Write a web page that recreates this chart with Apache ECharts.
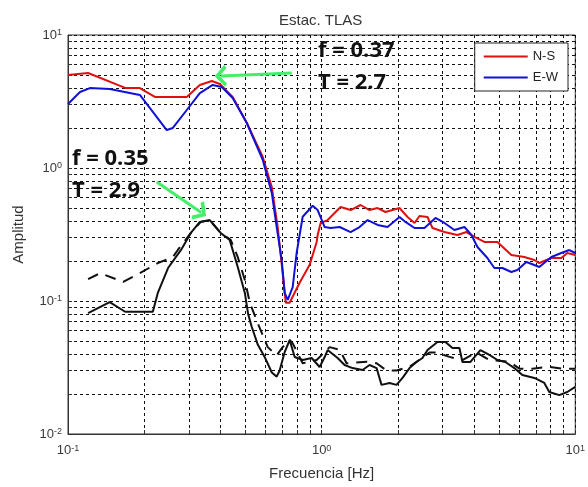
<!DOCTYPE html>
<html>
<head>
<meta charset="utf-8">
<script src="https://cdn.jsdelivr.net/npm/echarts@6/dist/echarts.min.js"></script>
<style>
    html, body {margin: 0; padding: 0; background: #fff;}
    #chart {width: 588px; height: 487px;}
</style>
</head>
<body>
<div id="chart"></div>
<script>
// grid lines / ticks (log decades with 2..9 minors)
var xTicks = [0.1, 0.2, 0.3, 0.4, 0.5, 0.6, 0.7, 0.8, 0.9, 1, 2, 3, 4, 5, 6, 7, 8, 9, 10];
var yTicks = [0.01, 0.02, 0.03, 0.04, 0.05, 0.06, 0.07, 0.08, 0.09,
    0.1, 0.2, 0.3, 0.4, 0.5, 0.6, 0.7, 0.8, 0.9, 1, 2, 3, 4, 5, 6, 7, 8, 9, 10];
var xLabels = [0.1, 1, 10];
var yLabels = [0.01, 0.1, 1, 10];

// [frecuencia Hz, amplitud]
var nsData = [[0.1, 5.0], [0.12, 5.18], [0.168, 4.0], [0.192, 3.99], [0.22, 3.42], [0.294, 3.42],
    [0.331, 4.21], [0.369, 4.51], [0.397, 4.28], [0.446, 3.42], [0.507, 2.18], [0.586, 1.21],
    [0.636, 0.72], [0.671, 0.36], [0.702, 0.162], [0.722, 0.097], [0.748, 0.097], [0.819, 0.137],
    [0.897, 0.187], [0.956, 0.278], [0.9645, 0.3135], [0.991, 0.386], [1.056, 0.406], [1.125, 0.459],
    [1.188, 0.509], [1.301, 0.483], [1.424, 0.527], [1.545, 0.483], [1.662, 0.50], [1.786, 0.467],
    [2.028, 0.50], [2.181, 0.428], [2.324, 0.386], [2.431, 0.4355], [2.615, 0.428], [2.735, 0.354],
    [3.05, 0.330], [3.43, 0.3135], [3.724, 0.330], [4.003, 0.303], [4.383, 0.278], [4.931, 0.278],
    [5.598, 0.2217], [6.299, 0.2142], [6.897, 0.2034], [7.216, 0.193], [8.046, 0.2105], [8.81, 0.2105],
    [9.301, 0.2296], [10, 0.222]];
var ewData = [[0.1, 3.03], [0.1115, 3.73], [0.122, 3.99], [0.146, 3.93], [0.192, 3.54], [0.216, 2.64],
    [0.245, 1.93], [0.259, 2.0], [0.294, 2.73], [0.331, 3.66], [0.372, 4.21], [0.404, 4.06],
    [0.446, 3.36], [0.507, 2.18], [0.586, 1.15], [0.636, 0.65], [0.665, 0.36], [0.696, 0.203],
    [0.715, 0.115], [0.735, 0.102], [0.769, 0.127], [0.797, 0.23], [0.842, 0.43], [0.922, 0.52],
    [0.9645, 0.483], [1.028, 0.360], [1.085, 0.354], [1.178, 0.360], [1.301, 0.330], [1.411, 0.360],
    [1.518, 0.406], [1.662, 0.373], [1.819, 0.360], [2.028, 0.428], [2.141, 0.393], [2.324, 0.354],
    [2.544, 0.354], [2.811, 0.421], [3.05, 0.386], [3.339, 0.342], [3.656, 0.360], [3.896, 0.3135],
    [4.114, 0.2547], [4.503, 0.2105], [4.799, 0.1771], [5.16, 0.1771], [5.598, 0.1652], [5.912, 0.171],
    [6.413, 0.1965], [6.897, 0.1865], [7.216, 0.1801], [8.046, 0.2142], [8.81, 0.2296], [9.471, 0.2417],
    [10, 0.2296]];
var solidData = [[0.12, 0.081], [0.146, 0.098], [0.168, 0.083], [0.216, 0.083], [0.226, 0.115],
    [0.248, 0.177], [0.279, 0.242], [0.305, 0.325], [0.331, 0.393], [0.362, 0.406], [0.40, 0.325],
    [0.434, 0.288], [0.467, 0.18], [0.498, 0.115], [0.513, 0.08], [0.53, 0.064], [0.56, 0.047],
    [0.596, 0.038], [0.636, 0.029], [0.665, 0.027], [0.683, 0.030], [0.715, 0.0413], [0.748, 0.0509],
    [0.783, 0.0379], [0.842, 0.036], [0.913, 0.0373], [0.982, 0.0319], [1.028, 0.0379], [1.056, 0.0428],
    [1.156, 0.0373], [1.232, 0.033], [1.324, 0.0313], [1.45, 0.0303], [1.545, 0.033], [1.647, 0.0313],
    [1.722, 0.0234], [1.852, 0.0242], [1.973, 0.0234], [2.084, 0.0264], [2.221, 0.0313], [2.366, 0.0348],
    [2.498, 0.0373], [2.615, 0.0428], [2.862, 0.0492], [3.077, 0.0492], [3.279, 0.0443], [3.494, 0.0443],
    [3.591, 0.0348], [3.861, 0.0348], [4.227, 0.0428], [4.585, 0.0393], [4.931, 0.036], [5.30, 0.0348],
    [5.753, 0.0313], [6.185, 0.0278], [6.897, 0.0264], [7.551, 0.0242], [7.899, 0.0207], [8.65, 0.0196],
    [9.301, 0.0207], [10, 0.0226]];
var dashData = [[0.12, 0.146], [0.134, 0.162], [0.165, 0.139], [0.192, 0.162], [0.226, 0.193],
    [0.259, 0.214], [0.271, 0.242], [0.305, 0.325], [0.334, 0.393], [0.362, 0.406], [0.40, 0.325],
    [0.438, 0.288], [0.467, 0.214], [0.498, 0.144], [0.521, 0.097], [0.56, 0.068], [0.613, 0.045],
    [0.665, 0.039], [0.702, 0.045], [0.748, 0.051], [0.769, 0.048], [0.842, 0.034], [0.956, 0.036],
    [1.075, 0.045], [1.178, 0.043], [1.254, 0.034], [1.504, 0.035], [1.647, 0.034], [1.803, 0.030],
    [1.973, 0.030], [2.221, 0.032], [2.662, 0.041], [2.837, 0.041], [3.191, 0.038], [3.591, 0.036],
    [4.075, 0.041], [4.585, 0.036], [5.499, 0.035], [6.019, 0.031], [6.772, 0.031], [7.899, 0.032],
    [8.887, 0.031], [10, 0.031]];

// green arrows: [from, to] in data coords
var arrowNS = [[0.762, 5.18], [0.40, 4.92]];
var arrowZ = [[0.224, 0.785], [0.335, 0.462]];

var chart = echarts.init(document.getElementById('chart'));
var font = 'Liberation Sans';
var chevron = 'path://M0,10 L10,0 L20,10 L17,12 L10,5 L3,12 Z';

function expLabel(v) {
    var e = Math.round(Math.log(v) / Math.LN10);
    return '{b|10}{e|' + e + '}';
}
var labelRich = {
    b: {fontSize: 13, lineHeight: 13, color: '#3a3a3a', fontFamily: font, verticalAlign: 'bottom', padding: [5, 0, 0, 0]},
    e: {fontSize: 9, lineHeight: 9, color: '#3a3a3a', fontFamily: font, verticalAlign: 'top'}
};
var gridLine = {show: true, lineStyle: {color: '#111', width: 1, type: [3, 3]}};

var option = {
    animation: false,
    backgroundColor: '#fff',
    title: {
        text: 'Estac. TLAS',
        left: 274,
        top: 8,
        textStyle: {fontSize: 15, fontWeight: 'normal', color: '#333', fontFamily: font}
    },
    legend: {
        data: ['N-S', 'E-W'],
        orient: 'vertical',
        right: 20,
        top: 43,
        padding: [7, 10, 7, 9],
        itemGap: 8,
        itemWidth: 44,
        itemHeight: 2,
        icon: 'rect',
        backgroundColor: '#fff',
        borderColor: '#222',
        borderWidth: 1,
        borderRadius: 0,
        textStyle: {fontSize: 13, color: '#222', fontFamily: font}
    },
    grid: {
        left: 68, right: 12, top: 35, bottom: 53,
        show: true, borderColor: '#333', borderWidth: 1, backgroundColor: 'transparent'
    },
    xAxis: {
        type: 'log',
        logBase: 10,
        min: 0.1,
        max: 10,
        name: 'Frecuencia [Hz]',
        nameLocation: 'middle',
        nameGap: 32,
        nameTextStyle: {fontSize: 15, color: '#333', fontFamily: font},
        axisLine: {show: true, lineStyle: {color: '#333'}},
        axisTick: {show: true, inside: true, length: 4, customValues: xTicks, lineStyle: {color: '#333'}},
        axisLabel: {customValues: xLabels, margin: 10, formatter: expLabel, rich: labelRich},
        splitLine: gridLine
    },
    yAxis: {
        type: 'log',
        logBase: 10,
        min: 0.01,
        max: 10,
        name: 'Amplitud',
        nameLocation: 'middle',
        nameGap: 42,
        nameTextStyle: {fontSize: 15, color: '#333', fontFamily: font},
        axisLine: {show: true, lineStyle: {color: '#333'}},
        axisTick: {show: true, inside: true, length: 4, customValues: yTicks, lineStyle: {color: '#333'}},
        axisLabel: {customValues: yLabels, margin: 6, formatter: expLabel, rich: labelRich},
        splitLine: gridLine
    },
    series: [
        {
            name: 'N-S', type: 'line', data: nsData, symbol: 'none',
            lineStyle: {color: '#e01010', width: 2}, itemStyle: {color: '#e01010'}, z: 4
        },
        {
            name: 'E-W', type: 'line', data: ewData, symbol: 'none',
            lineStyle: {color: '#1010d8', width: 2}, itemStyle: {color: '#1010d8'}, z: 5
        },
        {
            name: 'dashed', type: 'line', data: dashData, symbol: 'none',
            lineStyle: {color: '#111', width: 2, type: [11, 8]}, z: 3
        },
        {
            name: 'solid', type: 'line', data: solidData, symbol: 'none',
            lineStyle: {color: '#111', width: 2}, z: 3,
            markLine: {
                silent: true,
                symbol: ['none', chevron],
                symbolSize: [22, 12],
                label: {show: false},
                lineStyle: {color: '#44ee6a', width: 3, type: 'solid'},
                itemStyle: {color: '#44ee6a'},
                data: [
                    [{coord: arrowNS[0]}, {coord: arrowNS[1]}],
                    [{coord: arrowZ[0]}, {coord: arrowZ[1]}]
                ]
            }
        }
    ],
    graphic: [
        {type: 'text', left: 318, top: 40, style: {text: 'f = 0.37', font: 'bold 22px "Open Sans"', fill: '#111'}},
        {type: 'text', left: 318, top: 72, style: {text: 'T = 2.7', font: 'bold 22px "Open Sans"', fill: '#111'}},
        {type: 'text', left: 72, top: 148, style: {text: 'f = 0.35', font: 'bold 22px "Open Sans"', fill: '#111'}},
        {type: 'text', left: 72, top: 180, style: {text: 'T = 2.9', font: 'bold 22px "Open Sans"', fill: '#111'}}
    ]
};
chart.setOption(option);
</script>
</body>
</html>
